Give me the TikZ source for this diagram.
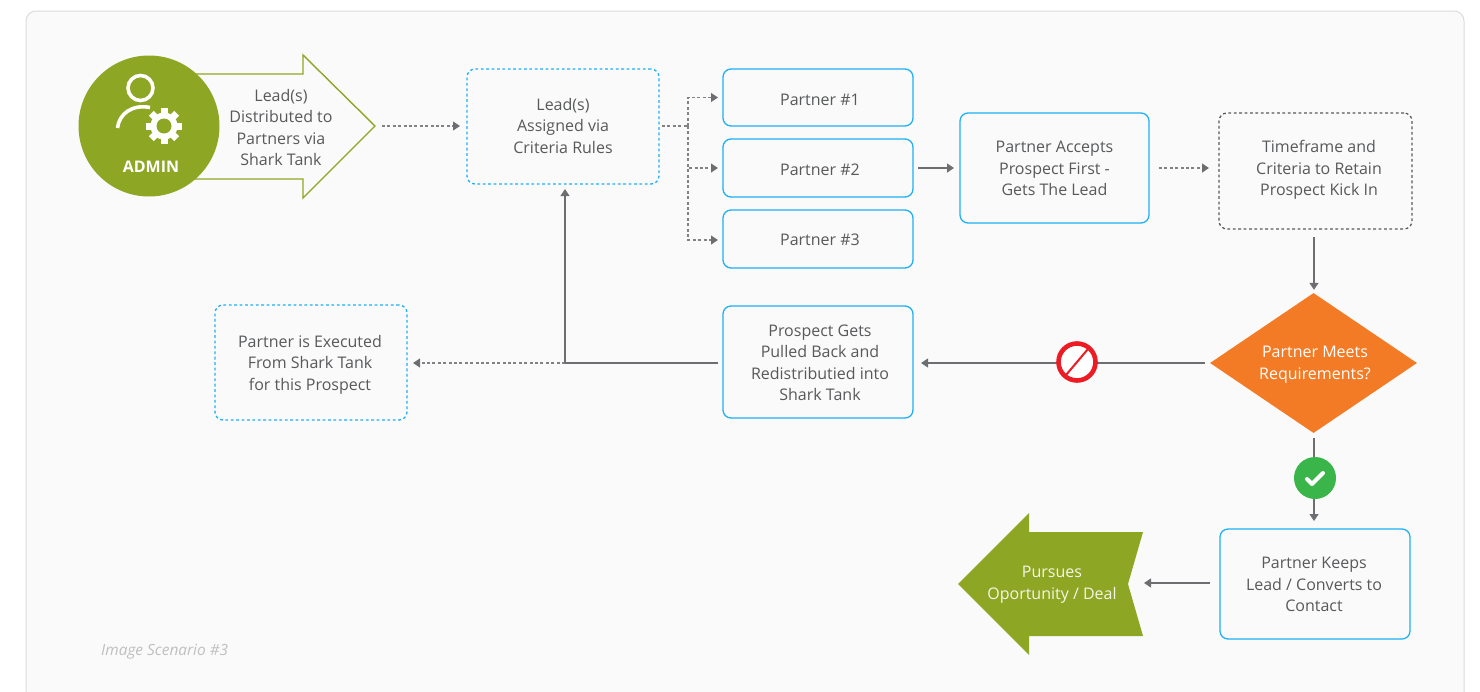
\documentclass[tikz,border=0pt]{standalone}
\usepackage{fontspec}
\setmainfont{Open Sans}
\usetikzlibrary{arrows.meta,shapes.geometric,calc}
\definecolor{panelbg}{HTML}{FAFAFA}
\definecolor{panelln}{HTML}{DCDCDC}
\definecolor{boxblue}{HTML}{1FB0F5}
\definecolor{txt}{HTML}{58595B}
\definecolor{conn}{HTML}{6D6E71}
\definecolor{connlt}{HTML}{808285}
\definecolor{olive}{HTML}{8DA623}
\definecolor{orng}{HTML}{F47B26}
\definecolor{redn}{HTML}{ED1C24}
\definecolor{grn}{HTML}{39B54A}
\tikzset{
  x=1pt,y=-1pt,
  bodyfont/.style={font=\fontsize{16}{21.5}\selectfont},
  label text/.style={bodyfont,text=txt,align=center,inner sep=0pt},
  flowbox/.style={draw=boxblue,line width=1.3pt,rounded corners=8pt,fill=panelbg,anchor=north west,
    bodyfont,text=txt,inner sep=0pt,outer sep=0pt},
  dotbox/.style={flowbox,dash pattern=on 2.8pt off 2.6pt},
  darkbox/.style={flowbox,draw=txt,dash pattern=on 2.8pt off 2.6pt},
  solidconn/.style={draw=conn,line width=1.2pt,-{Triangle[length=7pt,width=9pt]}},
  dotconn/.style={draw=connlt,line width=1.2pt,dash pattern=on 3pt off 2.4pt,-{Triangle[length=7pt,width=9pt,color=conn]}},
  plainsolid/.style={draw=conn,line width=1.2pt},
  plaindot/.style={draw=connlt,line width=1.2pt,dash pattern=on 3pt off 2.4pt},
}
% box text, moved by dx,dy (pt) from the centre of its node
\newcommand{\moved}[3]{\hspace*{\dimexpr 2\dimexpr#1pt\relax\relax}\vbox{\kern\dimexpr 2\dimexpr#2pt\relax\relax\hbox{\begin{tabular}{@{}c@{}}#3\end{tabular}}}}
\newcommand{\bx}[9]{\node[#1,minimum width=#4-#2,minimum height=#5-#3] (#6) at (#2,#3) {\moved{#7}{#8}{#9}};}
\begin{document}
\begin{tikzpicture}
\useasboundingbox (0,0) rectangle (1480,691);
\fill[white] (0,0) rectangle (1480,691);
\draw[panelln,fill=panelbg,line width=1pt,rounded corners=10pt] (26,720) -- (26,11) -- (1464,11) -- (1464,720);

% admin arrow
\draw[olive,line width=1.4pt,fill=panelbg] (190,74) -- (303,74) -- (303,55) -- (375,126) -- (303,198) -- (303,179) -- (190,179) -- cycle;
\coordinate (leadtip) at (375,126);
\node[circle,fill=olive,minimum size=141pt,inner sep=0pt] (admin) at (149,126) {};
\node[font=\fontsize{16}{18}\selectfont\bfseries,text=white,inner sep=0pt] (adminlabel) at (151,167) {ADMIN};
% person icon
\draw[white,line width=3.6pt] (140.5,88) circle (12.5);
\draw[white,line width=3.6pt] (117.5,128) .. controls (119,114) and (132,104) .. (150,107.5);
% gear icon
\fill[white] (164,126) circle (13.5);
\foreach \a in {0,45,...,315}{
  \fill[white,rotate around={\a:(164,126)}] (160.5,108) rectangle (167.5,116);
}
\fill[olive] (164,126) circle (7.5);

\node[label text] (leadtext) at (281,127.5) {Lead(s)\\Distributed to\\Partners via\\Shark Tank};

% boxes
\bx{dotbox}{467}{69}{659}{184}{assigned}{0}{1}{Lead(s)\\Assigned via\\Criteria Rules}
\bx{flowbox}{723}{69}{913}{126}{partnerA}{2}{3.5}{Partner \#1}
\bx{flowbox}{723}{139}{913}{197}{partnerB}{2}{3}{Partner \#2}
\bx{flowbox}{723}{210}{913}{268}{partnerC}{2}{2}{Partner \#3}
\bx{flowbox}{960}{113}{1149}{223}{accepts}{0}{2}{Partner Accepts\\Prospect First -\\Gets The Lead}
\bx{darkbox}{1219}{113}{1412}{229}{timeframe}{3.5}{-1}{Timeframe and\\Criteria to Retain\\Prospect Kick In}
\bx{flowbox}{723}{306}{913}{418}{pulled}{2}{2}{Prospect Gets\\Pulled Back and\\Redistributied into\\Shark Tank}
\bx{dotbox}{215}{305}{407}{420}{executed}{-1}{2}{Partner is Executed\\From Shark Tank\\for this Prospect}
\bx{flowbox}{1220}{529}{1410}{639}{keeps}{-1}{2}{Partner Keeps\\Lead / Converts to\\Contact}

% decision
\node[diamond,fill=orng,minimum width=207pt,minimum height=140pt,inner sep=0pt] (decision) at (1313.5,363) {};
\node[bodyfont,text=white,align=center,inner sep=0pt] (decisiontext) at (1315,364.5) {Partner Meets\\Requirements?};

% pursues arrow
\fill[olive] (958,584) -- (1029,513) -- (1029,532) -- (1143,532) -- (1128,584) -- (1143,636) -- (1029,636) -- (1029,655) -- cycle;
\coordinate (pursuesend) at (1143,583);
\node[bodyfont,text=white!90!olive,align=center,inner sep=0pt] (pursues) at (1052,584.5) {Pursues\\Oportunity / Deal};

% connectors
\coordinate (col) at (1314,0);
\draw[dotconn,shorten <=7pt,shorten >=7pt] (leadtip) -- (assigned.west |- leadtip);
\coordinate (split) at (688,126);
\draw[plaindot,shorten <=3pt] (assigned.east |- split) -- (split);
\draw[dotconn,shorten >=5pt] (split) |- (partnerA.west);
\draw[dotconn,shorten >=5pt] (split) |- (partnerB.west);
\draw[dotconn,shorten >=5pt] (split) |- ($(partnerC.west)+(0,1)$);
\draw[solidconn,shorten <=5pt,shorten >=6pt] (partnerB.east) -- (accepts.west |- partnerB.east);
\draw[dotconn,shorten <=10pt,shorten >=10pt] (accepts.east |- partnerB.east) -- (timeframe.west |- partnerB.east);
\draw[solidconn,shorten <=8pt,shorten >=3pt] (timeframe.south -| col) -- (decision.north -| col);
\draw[solidconn,shorten <=5pt,shorten >=8pt] (decision.west) -- (pulled.east |- decision.west);
\coordinate (junction) at (565,363);
\draw[plainsolid,shorten <=5pt] (pulled.west |- junction) -- (junction);
\draw[dotconn,shorten >=6pt] (junction) -- (executed.east |- junction);
\draw[solidconn,shorten >=5pt] (junction) -- (junction |- assigned.south);
\draw[solidconn,shorten <=5pt,shorten >=8pt] (decision.south -| col) -- (keeps.north -| col);
\draw[solidconn,shorten <=10pt,shorten >=1pt] (keeps.west |- pursuesend) -- (pursuesend);

% status icons
\node[circle,draw=redn,fill=white,line width=4.6pt,minimum size=37pt,inner sep=0pt] (noentry) at (1077,362) {};
\draw[redn,line width=2pt] (noentry.center) ++(11,-13) -- ++(-22,26);
\node[circle,fill=grn,minimum size=42pt,inner sep=0pt] (okay) at (1315,478) {};
\draw[white,line width=4pt,line cap=round,line join=round] (1307,479) -- (1312,484) -- (1323,473);

\node[anchor=west,font=\fontsize{15.4}{17}\selectfont\itshape,text=black!25,inner sep=0pt] (caption) at (101,651.5) {Image Scenario \#3};
\end{tikzpicture}
\end{document}
